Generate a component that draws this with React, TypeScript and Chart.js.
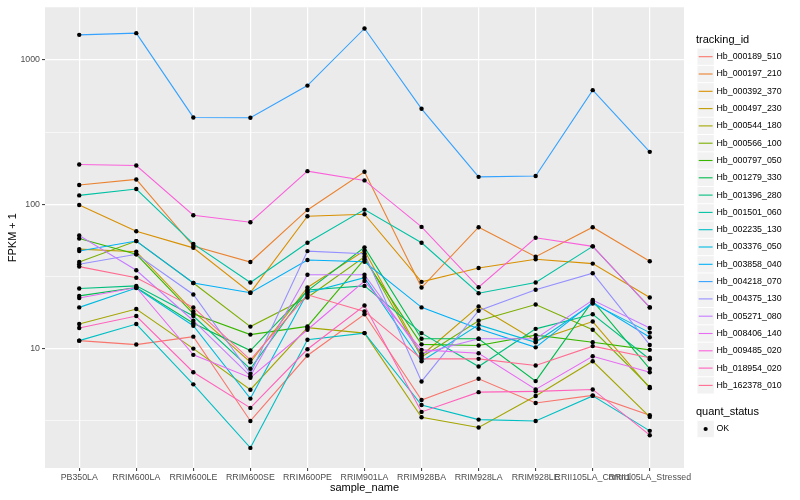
import React, { useEffect, useRef } from 'react';
import { Chart, registerables } from 'chart.js';

Chart.register(...registerables);

const FONT = "'Liberation Sans', Arial, Helvetica, sans-serif";

const categories = [
  'PB350LA', 'RRIM600LA', 'RRIM600LE', 'RRIM600SE', 'RRIM600PE', 'RRIM901LA',
  'RRIM928BA', 'RRIM928LA', 'RRIM928LE', 'RRII105LA_Control', 'RRII105LA_Stressed',
];

const trackingIds = [
  'Hb_000189_510', 'Hb_000197_210', 'Hb_000392_370', 'Hb_000497_230', 'Hb_000544_180',
  'Hb_000566_100', 'Hb_000797_050', 'Hb_001279_330', 'Hb_001396_280', 'Hb_001501_060',
  'Hb_002235_130', 'Hb_003376_050', 'Hb_003858_040', 'Hb_004218_070', 'Hb_004375_130',
  'Hb_005271_080', 'Hb_008406_140', 'Hb_009485_020', 'Hb_018954_020', 'Hb_162378_010',
];

const seriesColors = [
  '#F8766D', '#EA8331', '#D89000', '#C09B00', '#A3A500', '#7CAE00', '#39B600', '#00BB4E',
  '#00BF7D', '#00C1A3', '#00BFC4', '#00BAE0', '#00B0F6', '#35A2FF', '#9590FF', '#C77CFF',
  '#E76BF3', '#FA62DB', '#FF62BC', '#FF6C91',
];

// FPKM + 1 per sample, in category order
const hb000189_510 = [11.35, 10.66, 12.1, 3.15, 8.95, 17.3, 4.40, 6.18, 4.20, 4.74, 3.45];
const hb000197_210 = [135.9, 148.7, 51.3, 39.8, 91.4, 168.1, 26.5, 69.4, 43.3, 69.4, 40.3];
const hb000392_370 = [98.9, 65.1, 49.9, 24.4, 82.6, 85.3, 29.0, 36.2, 41.6, 38.8, 22.6];
const hb000497_230 = [48.9, 46.9, 18.1, 8.04, 26.5, 47.9, 8.95, 19.6, 11.35, 15.4, 5.32];
const hb000544_180 = [14.8, 18.8, 10.0, 5.19, 13.96, 12.8, 3.34, 2.84, 4.69, 8.17, 3.36];
const hb000566_100 = [39.8, 55.6, 28.5, 14.2, 22.6, 43.3, 8.74, 15.6, 20.2, 13.5, 5.41];
const hb000797_050 = [58.0, 45.0, 17.4, 12.5, 14.25, 41.6, 10.7, 10.5, 12.4, 11.05, 9.8];
const hb001279_330 = [23.2, 26.5, 15.0, 9.69, 25.1, 50.3, 11.7, 11.7, 5.95, 21.4, 7.24];
const hb001396_280 = [26.1, 27.2, 16.8, 7.24, 25.5, 27.2, 12.8, 7.51, 13.7, 17.3, 8.44];
const hb001501_060 = [115.3, 127.5, 53.2, 28.7, 54.1, 91.9, 54.1, 24.2, 28.7, 51.1, 19.3];
const hb002235_130 = [11.35, 14.8, 5.65, 2.05, 11.5, 12.8, 4.06, 3.22, 3.15, 4.70, 2.69];
const hb003376_050 = [19.3, 26.3, 14.4, 4.50, 24.4, 31.0, 8.17, 14.6, 11.05, 20.5, 12.9];
const hb003858_040 = [47.4, 55.6, 28.5, 24.4, 41.1, 40.0, 19.3, 13.7, 10.2, 20.9, 11.97];
const hb004218_070 = [1494, 1535, 400, 398, 665, 1654, 459, 155, 157, 618, 231];
const hb004375_130 = [38.4, 45.0, 23.7, 6.69, 47.4, 45.4, 5.92, 18.3, 25.6, 33.3, 10.6];
const hb005271_080 = [60.8, 34.9, 15.6, 6.44, 32.5, 32.5, 9.24, 11.7, 11.7, 21.7, 13.9];
const hb008406_140 = [22.4, 26.5, 9.05, 6.28, 13.5, 29.4, 9.8, 9.28, 5.21, 8.85, 6.86];
const hb009485_020 = [188.8, 185.8, 84.0, 75.1, 169.7, 146.4, 69.7, 26.6, 58.6, 51.1, 19.3];
const hb018954_020 = [13.9, 16.8, 6.86, 3.88, 9.89, 19.9, 3.64, 4.99, 5.05, 5.21, 2.51];
const hb162378_010 = [37.0, 31.0, 19.3, 8.36, 23.6, 18.1, 8.49, 8.49, 7.63, 10.4, 8.63];

const seriesValues = [
  hb000189_510, hb000197_210, hb000392_370, hb000497_230, hb000544_180,
  hb000566_100, hb000797_050, hb001279_330, hb001396_280, hb001501_060,
  hb002235_130, hb003376_050, hb003858_040, hb004218_070, hb004375_130,
  hb005271_080, hb008406_140, hb009485_020, hb018954_020, hb162378_010,
];

const yMajorTicks = [10, 100, 1000];
const yMinorTicks = [3.1623, 31.623, 316.23];
const quantStatus = ['OK'];

const panelBackground = {
  id: 'panelBackground',
  beforeDraw(chart: any) {
    const { ctx, chartArea: a } = chart;
    ctx.save();
    ctx.fillStyle = '#EBEBEB';
    ctx.fillRect(a.left, a.top, a.right - a.left, a.bottom - a.top);
    ctx.restore();
  },
};

const ggLegend = {
  id: 'ggLegend',
  afterDraw(chart: any) {
    const { ctx } = chart;
    const keyX = 697;
    const keyW = 17.3;
    const step = 17.3;
    const firstCenter = 56.7;
    ctx.save();
    ctx.textBaseline = 'middle';
    ctx.textAlign = 'left';
    ctx.fillStyle = '#000';
    ctx.font = `11px ${FONT}`;
    ctx.fillText('tracking_id', 696, 40);
    trackingIds.forEach((id, i) => {
      const cy = firstCenter + i * step;
      ctx.fillStyle = '#F2F2F2';
      ctx.fillRect(keyX + 0.5, cy - step / 2 + 0.5, keyW - 1, step - 1);
      ctx.strokeStyle = seriesColors[i];
      ctx.lineWidth = 1.1;
      ctx.beginPath();
      ctx.moveTo(keyX + 1.7, cy);
      ctx.lineTo(keyX + keyW - 1.7, cy);
      ctx.stroke();
      ctx.fillStyle = '#000';
      ctx.font = `8.8px ${FONT}`;
      ctx.fillText(id, 716.5, cy);
    });
    const qTitle = 411.7;
    ctx.font = `11px ${FONT}`;
    ctx.fillText('quant_status', 696, qTitle);
    quantStatus.forEach((s, i) => {
      const cy = qTitle + 17.3 * (i + 1);
      ctx.fillStyle = '#F2F2F2';
      ctx.fillRect(keyX + 0.5, cy - step / 2 + 0.5, keyW - 1, step - 1);
      ctx.fillStyle = '#000';
      ctx.beginPath();
      ctx.arc(keyX + keyW / 2, cy, 2.1, 0, Math.PI * 2);
      ctx.fill();
      ctx.font = `8.8px ${FONT}`;
      ctx.fillText(s, 716.5, cy);
    });
    ctx.restore();
  },
};

export default function App() {
  const canvasRef = useRef<HTMLCanvasElement | null>(null);

  useEffect(() => {
    document.body.style.margin = '0';
    const canvas = canvasRef.current;
    if (!canvas) return;

    const lineSets = seriesValues.map((vals, i) => ({
      type: 'line' as const,
      label: trackingIds[i],
      data: vals.map((v, k) => ({ x: k, y: v })),
      borderColor: seriesColors[i],
      backgroundColor: seriesColors[i],
      borderWidth: 1.1,
      pointRadius: 0,
      tension: 0,
      fill: false,
      order: 100 - i,
    }));

    const pointSet = {
      type: 'line' as const,
      label: 'OK',
      data: seriesValues.flatMap((vals) => vals.map((v, k) => ({ x: k, y: v }))),
      showLine: false,
      pointRadius: 2.2,
      pointBackgroundColor: '#000',
      pointBorderWidth: 0,
      borderColor: '#000',
      order: 0,
    };

    const chart = new Chart(canvas, {
      type: 'line',
      data: { datasets: [...lineSets, pointSet] as any },
      options: {
        responsive: false,
        animation: false,
        events: [],
        layout: { padding: { top: 5, right: 116, left: 0, bottom: 0 } },
        plugins: { legend: { display: false }, tooltip: { enabled: false } },
        scales: {
          x: {
            type: 'linear',
            min: -0.6,
            max: 10.6,
            afterBuildTicks: (s: any) => {
              s.ticks = categories.map((_, i) => ({ value: i }));
            },
            afterFit: (s: any) => {
              s.height = 32;
            },
            ticks: {
              autoSkip: false,
              maxRotation: 0,
              minRotation: 0,
              padding: 1,
              color: '#4D4D4D',
              font: { family: FONT, size: 8.8 },
              callback: (v: any) => categories[v as number] ?? '',
            },
            grid: {
              color: '#FFFFFF',
              lineWidth: 1.2,
              drawTicks: true,
              tickLength: 3,
              tickWidth: 1,
              tickColor: '#333333',
            },
            border: { display: false },
            title: {
              display: true,
              text: 'sample_name',
              color: '#000',
              font: { family: FONT, size: 11 },
              padding: { top: 0, bottom: 5 },
            },
          },
          y: {
            type: 'logarithmic',
            min: 1.487,
            max: 2320,
            afterBuildTicks: (s: any) => {
              s.ticks = [...yMinorTicks, ...yMajorTicks]
                .sort((a, b) => a - b)
                .map((v) => ({ value: v }));
            },
            afterFit: (s: any) => {
              s.width = 45;
            },
            ticks: {
              autoSkip: false,
              padding: 2,
              color: '#4D4D4D',
              font: { family: FONT, size: 8.8 },
              callback: (v: any) => (yMajorTicks.includes(v as number) ? String(v) : ''),
            },
            grid: {
              color: '#FFFFFF',
              lineWidth: (c: any) => (c.tick && yMajorTicks.includes(c.tick.value) ? 1.2 : 0.6),
              drawTicks: true,
              tickLength: 3,
              tickWidth: 1,
              tickColor: (c: any) =>
                c.tick && yMajorTicks.includes(c.tick.value) ? '#333333' : 'rgba(0,0,0,0)',
            },
            border: { display: false },
            title: {
              display: true,
              text: 'FPKM + 1',
              color: '#000',
              font: { family: FONT, size: 11 },
              padding: { top: 6, bottom: 0 },
            },
          },
        },
      },
      plugins: [panelBackground, ggLegend],
    });

    return () => chart.destroy();
  }, []);

  return (
    <div style={{ width: 800, height: 500, background: '#fff' }}>
      <canvas ref={canvasRef} width={800} height={500} style={{ display: 'block' }} />
    </div>
  );
}
